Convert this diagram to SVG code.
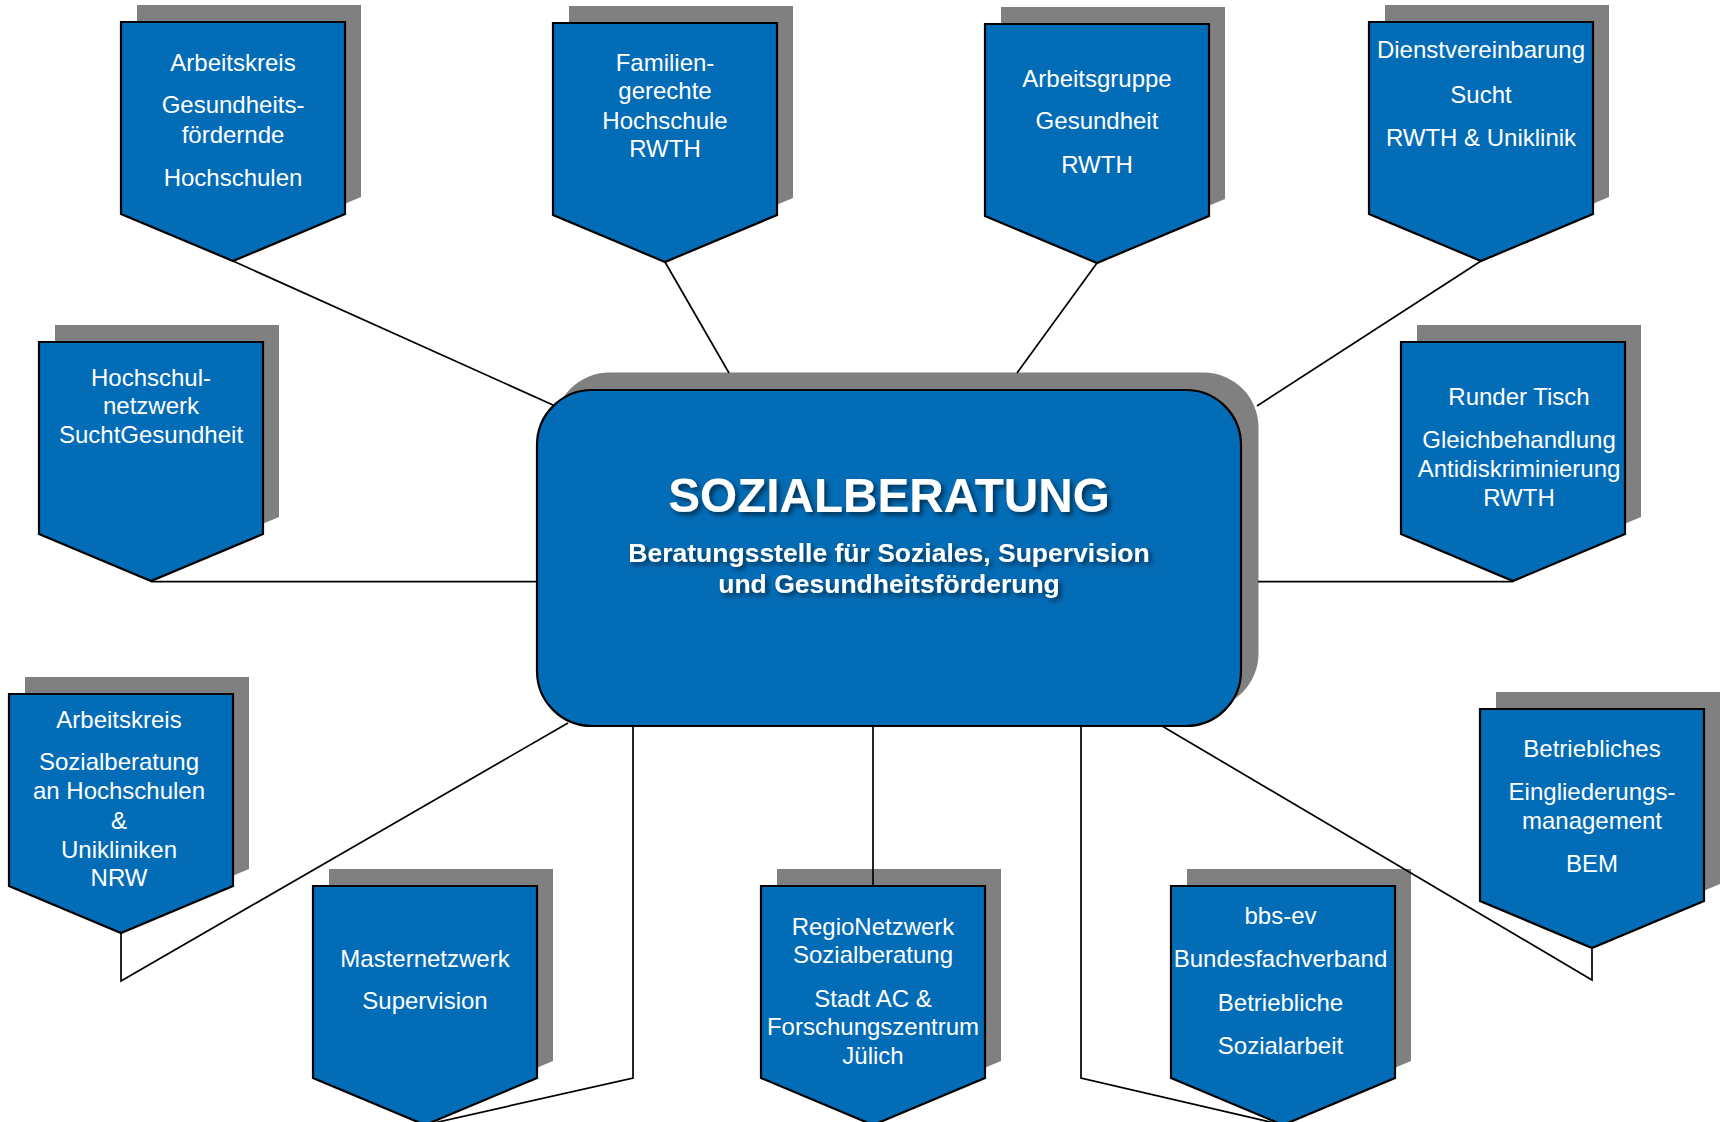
<svg xmlns="http://www.w3.org/2000/svg" xmlns:xlink="http://www.w3.org/1999/xlink" width="1721" height="1122" viewBox="0 0 1721 1122">
<style>
.sh{fill:#808080;stroke:none}
.bd{fill:#036CB6;stroke:#000;stroke-width:2.2}
.t{font-family:"Liberation Sans",Arial,sans-serif;font-size:24px;fill:#fff;text-anchor:middle}
.c{fill:none;stroke:#000;stroke-width:1.7}
.title{font-family:"Liberation Sans",Arial,sans-serif;font-weight:bold;fill:#fff;text-anchor:middle}
</style>
<defs>
<path id="pent" d="M0,0 H224 V192 L112,239 L0,192 Z"/>
<filter id="ts" x="-10%" y="-30%" width="120%" height="160%">
<feDropShadow dx="3" dy="3" stdDeviation="2.5" flood-color="#000" flood-opacity="0.55"/>
</filter>
</defs>
<rect width="1721" height="1122" fill="#fff"/>

<g id="center">
<rect class="sh" x="554.5" y="372.5" width="704" height="336" rx="55"/>
<rect class="bd" x="537" y="390" width="704" height="336" rx="55"/>
<g filter="url(#ts)">
<text class="title" x="889" y="511.5" font-size="47.7">SOZIALBERATUNG</text>
<text class="title" x="889" y="562.3" font-size="26.5">Beratungsstelle für Soziales, Supervision</text>
<text class="title" x="889" y="593.3" font-size="26.5">und Gesundheitsförderung</text>
</g>
</g>

<g id="n1">
<use href="#pent" class="sh" x="137" y="5"/>
<use href="#pent" class="bd" x="121" y="22"/>
<text class="t" x="233" y="70.7">Arbeitskreis</text>
<text class="t" x="233" y="113.3">Gesundheits-</text>
<text class="t" x="233" y="142.7">fördernde</text>
<text class="t" x="233" y="185.7">Hochschulen</text>
</g>

<g id="n2">
<use href="#pent" class="sh" x="569" y="6"/>
<use href="#pent" class="bd" x="553" y="23"/>
<text class="t" x="665" y="70.7">Familien-</text>
<text class="t" x="665" y="99.3">gerechte</text>
<text class="t" x="665" y="129">Hochschule</text>
<text class="t" x="665" y="156.7">RWTH</text>
</g>

<g id="n3">
<use href="#pent" class="sh" x="1001" y="7"/>
<use href="#pent" class="bd" x="985" y="24"/>
<text class="t" x="1097" y="86.7">Arbeitsgruppe</text>
<text class="t" x="1097" y="129.3">Gesundheit</text>
<text class="t" x="1097" y="172.7">RWTH</text>
</g>

<g id="n4">
<use href="#pent" class="sh" x="1385" y="5"/>
<use href="#pent" class="bd" x="1369" y="22"/>
<text class="t" x="1481" y="58.2">Dienstvereinbarung</text>
<text class="t" x="1481" y="102.7">Sucht</text>
<text class="t" x="1481" y="145.6">RWTH &amp; Uniklinik</text>
</g>

<g id="n5">
<use href="#pent" class="sh" x="55" y="325"/>
<use href="#pent" class="bd" x="39" y="342"/>
<text class="t" x="151" y="385.7">Hochschul-</text>
<text class="t" x="151" y="414.3">netzwerk</text>
<text class="t" x="151" y="443.3">SuchtGesundheit</text>
</g>

<g id="n6">
<use href="#pent" class="sh" x="1417" y="325"/>
<use href="#pent" class="bd" x="1401" y="342"/>
<text class="t" x="1519" y="405">Runder Tisch</text>
<text class="t" x="1519" y="448">Gleichbehandlung</text>
<text class="t" x="1519" y="477">Antidiskriminierung</text>
<text class="t" x="1519" y="506">RWTH</text>
</g>

<g id="n7">
<use href="#pent" class="sh" x="25" y="677"/>
<use href="#pent" class="bd" x="9" y="694"/>
<text class="t" x="119" y="728">Arbeitskreis</text>
<text class="t" x="119" y="770">Sozialberatung</text>
<text class="t" x="119" y="799">an Hochschulen</text>
<text class="t" x="119" y="828.5">&amp;</text>
<text class="t" x="119" y="857.5">Unikliniken</text>
<text class="t" x="119" y="886">NRW</text>
</g>

<g id="n8">
<use href="#pent" class="sh" x="329" y="869"/>
<use href="#pent" class="bd" x="313" y="886"/>
<text class="t" x="425" y="966.7">Masternetzwerk</text>
<text class="t" x="425" y="1009.3">Supervision</text>
</g>

<g id="n9">
<use href="#pent" class="sh" x="777" y="869"/>
<use href="#pent" class="bd" x="761" y="886"/>
<text class="t" x="873" y="935">RegioNetzwerk</text>
<text class="t" x="873" y="963.3">Sozialberatung</text>
<text class="t" x="873" y="1006.7">Stadt AC &amp;</text>
<text class="t" x="873" y="1035">Forschungszentrum</text>
<text class="t" x="873" y="1064.3">Jülich</text>
</g>

<g id="n10">
<use href="#pent" class="sh" x="1187" y="869"/>
<use href="#pent" class="bd" x="1171" y="886"/>
<text class="t" x="1280.5" y="924">bbs-ev</text>
<text class="t" x="1280.5" y="967">Bundesfachverband</text>
<text class="t" x="1280.5" y="1011">Betriebliche</text>
<text class="t" x="1280.5" y="1054">Sozialarbeit</text>
</g>

<g id="n11">
<use href="#pent" class="sh" x="1496" y="692"/>
<use href="#pent" class="bd" x="1480" y="709"/>
<text class="t" x="1592" y="757">Betriebliches</text>
<text class="t" x="1592" y="800">Eingliederungs-</text>
<text class="t" x="1592" y="829">management</text>
<text class="t" x="1592" y="872">BEM</text>
</g>

<g id="connectors">
<path class="c" d="M233,261 L553,405"/>
<path class="c" d="M665,262 L729,373"/>
<path class="c" d="M1097,263 L1017,373"/>
<path class="c" d="M1481,261 L1257,406"/>
<path class="c" d="M151,581.7 H537"/>
<path class="c" d="M1258,581.7 H1513"/>
<path class="c" d="M568,723 L121,981 V933"/>
<path class="c" d="M633,726 V1078 L425,1125"/>
<path class="c" d="M873,726 V886"/>
<path class="c" d="M1081,726 V1078 L1283,1125"/>
<path class="c" d="M1162,726 L1592,980 V948"/>
</g>
</svg>
